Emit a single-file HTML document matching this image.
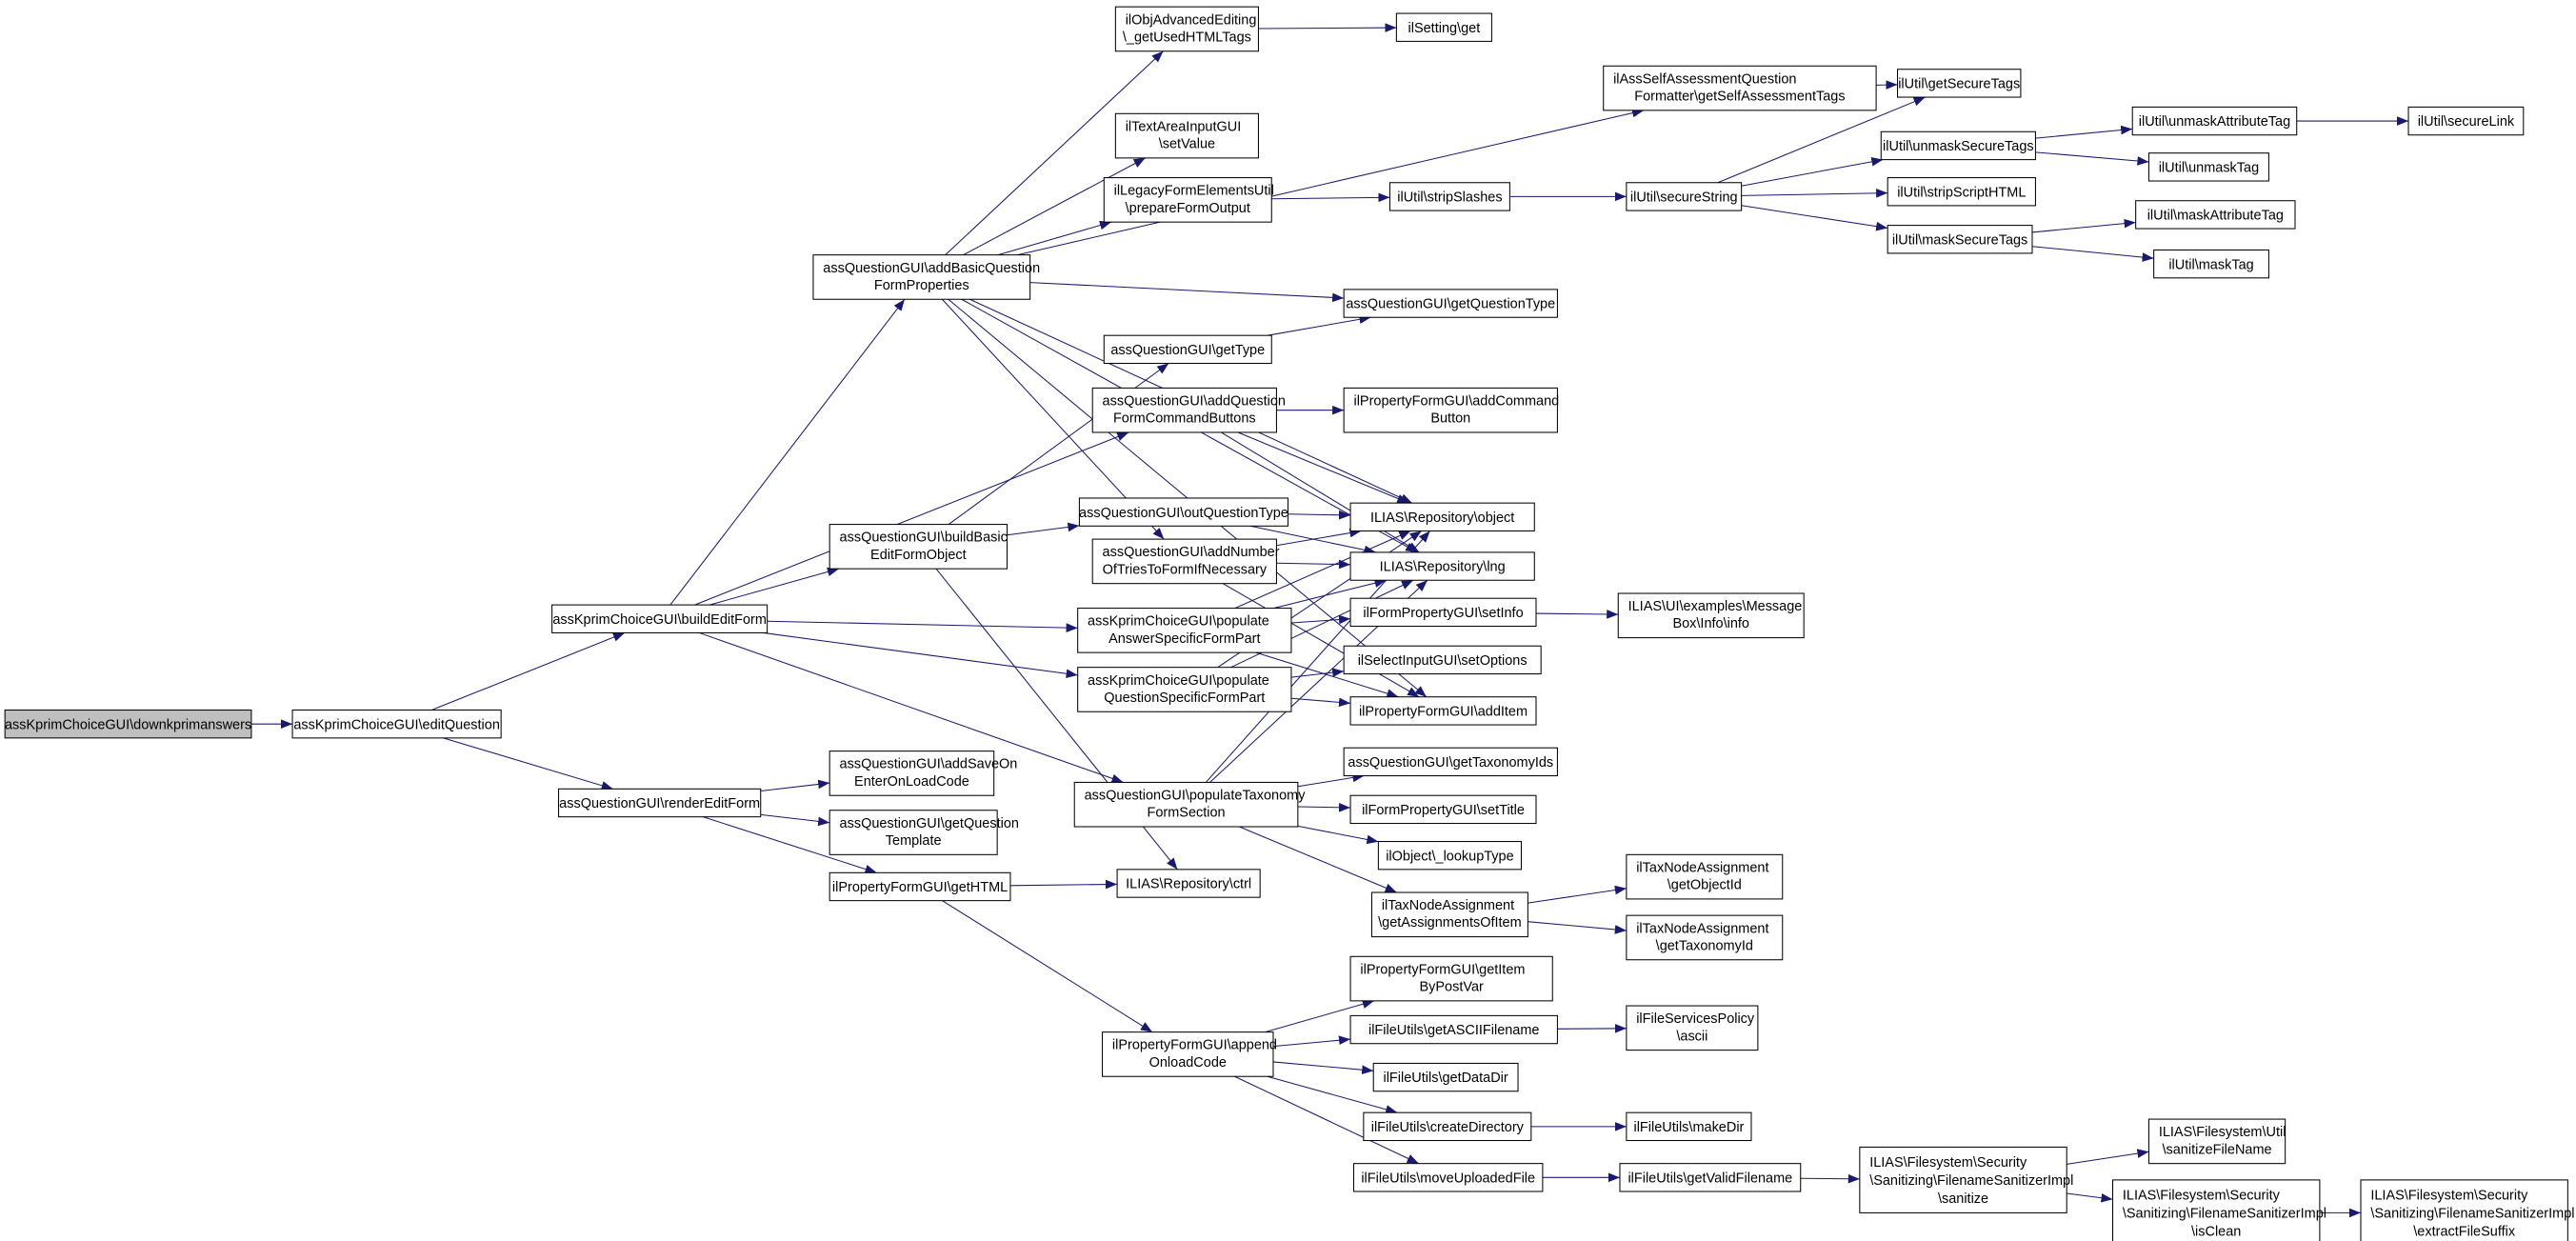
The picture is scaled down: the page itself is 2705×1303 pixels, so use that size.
<!DOCTYPE html>
<html><head><meta charset="utf-8">
<style>
html,body{margin:0;padding:0;background:#fff;}
svg{display:block;}
text{font-family:"Liberation Sans",sans-serif;font-size:8.4px;fill:#000;}
rect{fill:#fff;stroke:#000;stroke-width:0.6;}
rect.root{fill:#bfbfbf;}
</style></head>
<body>
<svg id="g" width="2705" height="1303" viewBox="0 0 1568 755" xmlns="http://www.w3.org/2000/svg">
<defs><marker id="ah" viewBox="0 0 10 10" refX="10" refY="5" markerWidth="7" markerHeight="7" markerUnits="userSpaceOnUse" orient="auto"><path d="M0,1 L10,5 L0,9 z" fill="#191970"/></marker></defs>
<g id="edges"></g>
<g id="nodes">
<g id="n1"><rect class="root" x="3" y="432" width="150" height="17"/><text x="78" y="443.5" text-anchor="middle">assKprimChoiceGUI\downkprimanswers</text></g>
<g id="n2"><rect x="178" y="432" width="127" height="17"/><text x="241.5" y="443.5" text-anchor="middle">assKprimChoiceGUI\editQuestion</text></g>
<g id="n3"><rect x="336" y="368" width="131" height="17"/><text x="401.5" y="379.5" text-anchor="middle">assKprimChoiceGUI\buildEditForm</text></g>
<g id="n4"><rect x="340" y="480" width="123" height="17"/><text x="401.5" y="491.5" text-anchor="middle">assQuestionGUI\renderEditForm</text></g>
<g id="n5"><rect x="495" y="155" width="132" height="27"/><text x="501" y="165.5">assQuestionGUI\addBasicQuestion</text><text x="561" y="176" text-anchor="middle">FormProperties</text></g>
<g id="n6"><rect x="505" y="319" width="108" height="27"/><text x="511" y="329.5">assQuestionGUI\buildBasic</text><text x="559" y="340" text-anchor="middle">EditFormObject</text></g>
<g id="n7"><rect x="505" y="457" width="100" height="27"/><text x="511" y="467.5">assQuestionGUI\addSaveOn</text><text x="555" y="478" text-anchor="middle">EnterOnLoadCode</text></g>
<g id="n8"><rect x="505" y="493" width="102" height="27"/><text x="511" y="503.5">assQuestionGUI\getQuestion</text><text x="556" y="514" text-anchor="middle">Template</text></g>
<g id="n9"><rect x="505" y="531" width="110" height="17"/><text x="560" y="542.5" text-anchor="middle">ilPropertyFormGUI\getHTML</text></g>
<g id="n10"><rect x="679" y="4" width="87" height="27"/><text x="685" y="14.5">ilObjAdvancedEditing</text><text x="722.5" y="25" text-anchor="middle">\_getUsedHTMLTags</text></g>
<g id="n11"><rect x="679" y="69" width="87" height="27"/><text x="685" y="79.5">ilTextAreaInputGUI</text><text x="722.5" y="90" text-anchor="middle">\setValue</text></g>
<g id="n12"><rect x="672" y="108" width="102" height="27"/><text x="678" y="118.5">ilLegacyFormElementsUtil</text><text x="723" y="129" text-anchor="middle">\prepareFormOutput</text></g>
<g id="n13"><rect x="672" y="204" width="102" height="17"/><text x="723" y="215.5" text-anchor="middle">assQuestionGUI\getType</text></g>
<g id="n14"><rect x="665" y="236" width="112" height="27"/><text x="671" y="246.5">assQuestionGUI\addQuestion</text><text x="721" y="257" text-anchor="middle">FormCommandButtons</text></g>
<g id="n15"><rect x="657" y="303" width="127" height="17"/><text x="720.5" y="314.5" text-anchor="middle">assQuestionGUI\outQuestionType</text></g>
<g id="n16"><rect x="665" y="328" width="112" height="27"/><text x="671" y="338.5">assQuestionGUI\addNumber</text><text x="721" y="349" text-anchor="middle">OfTriesToFormIfNecessary</text></g>
<g id="n17"><rect x="656" y="370" width="130" height="27"/><text x="662" y="380.5">assKprimChoiceGUI\populate</text><text x="721" y="391" text-anchor="middle">AnswerSpecificFormPart</text></g>
<g id="n18"><rect x="656" y="406" width="130" height="27"/><text x="662" y="416.5">assKprimChoiceGUI\populate</text><text x="721" y="427" text-anchor="middle">QuestionSpecificFormPart</text></g>
<g id="n19"><rect x="654" y="476" width="136" height="27"/><text x="660" y="486.5">assQuestionGUI\populateTaxonomy</text><text x="722" y="497" text-anchor="middle">FormSection</text></g>
<g id="n20"><rect x="680" y="529" width="87" height="17"/><text x="723.5" y="540.5" text-anchor="middle">ILIAS\Repository\ctrl</text></g>
<g id="n21"><rect x="671" y="628" width="104" height="27"/><text x="677" y="638.5">ilPropertyFormGUI\append</text><text x="723" y="649" text-anchor="middle">OnloadCode</text></g>
<g id="n22"><rect x="850" y="8" width="58" height="17"/><text x="879" y="19.5" text-anchor="middle">ilSetting\get</text></g>
<g id="n23"><rect x="976" y="40" width="166" height="27"/><text x="982" y="50.5">ilAssSelfAssessmentQuestion</text><text x="1059" y="61" text-anchor="middle">Formatter\getSelfAssessmentTags</text></g>
<g id="n24"><rect x="846" y="111" width="73" height="17"/><text x="882.5" y="122.5" text-anchor="middle">ilUtil\stripSlashes</text></g>
<g id="n25"><rect x="818" y="176" width="130" height="17"/><text x="883" y="187.5" text-anchor="middle">assQuestionGUI\getQuestionType</text></g>
<g id="n26"><rect x="818" y="236" width="130" height="27"/><text x="824" y="246.5">ilPropertyFormGUI\addCommand</text><text x="883" y="257" text-anchor="middle">Button</text></g>
<g id="n27"><rect x="822" y="306" width="112" height="17"/><text x="878" y="317.5" text-anchor="middle">ILIAS\Repository\object</text></g>
<g id="n28"><rect x="822" y="336" width="112" height="17"/><text x="878" y="347.5" text-anchor="middle">ILIAS\Repository\lng</text></g>
<g id="n29"><rect x="822" y="364" width="113" height="17"/><text x="878.5" y="375.5" text-anchor="middle">ilFormPropertyGUI\setInfo</text></g>
<g id="n30"><rect x="818" y="393" width="120" height="17"/><text x="878" y="404.5" text-anchor="middle">ilSelectInputGUI\setOptions</text></g>
<g id="n31"><rect x="822" y="424" width="113" height="17"/><text x="878.5" y="435.5" text-anchor="middle">ilPropertyFormGUI\addItem</text></g>
<g id="n32"><rect x="818" y="455" width="130" height="17"/><text x="883" y="466.5" text-anchor="middle">assQuestionGUI\getTaxonomyIds</text></g>
<g id="n33"><rect x="822" y="484" width="113" height="17"/><text x="878.5" y="495.5" text-anchor="middle">ilFormPropertyGUI\setTitle</text></g>
<g id="n34"><rect x="839" y="512" width="87" height="17"/><text x="882.5" y="523.5" text-anchor="middle">ilObject\_lookupType</text></g>
<g id="n35"><rect x="835" y="543" width="95" height="27"/><text x="841" y="553.5">ilTaxNodeAssignment</text><text x="882.5" y="564" text-anchor="middle">\getAssignmentsOfItem</text></g>
<g id="n36"><rect x="822" y="582" width="123" height="27"/><text x="828" y="592.5">ilPropertyFormGUI\getItem</text><text x="883.5" y="603" text-anchor="middle">ByPostVar</text></g>
<g id="n37"><rect x="822" y="618" width="126" height="17"/><text x="885" y="629.5" text-anchor="middle">ilFileUtils\getASCIIFilename</text></g>
<g id="n38"><rect x="836" y="647" width="88" height="17"/><text x="880" y="658.5" text-anchor="middle">ilFileUtils\getDataDir</text></g>
<g id="n39"><rect x="830" y="677" width="102" height="17"/><text x="881" y="688.5" text-anchor="middle">ilFileUtils\createDirectory</text></g>
<g id="n40"><rect x="824" y="708" width="115" height="17"/><text x="881.5" y="719.5" text-anchor="middle">ilFileUtils\moveUploadedFile</text></g>
<g id="n41"><rect x="990" y="111" width="70" height="17"/><text x="1025" y="122.5" text-anchor="middle">ilUtil\secureString</text></g>
<g id="n42"><rect x="985" y="361" width="113" height="27"/><text x="991" y="371.5">ILIAS\UI\examples\Message</text><text x="1041.5" y="382" text-anchor="middle">Box\Info\info</text></g>
<g id="n43"><rect x="990" y="520" width="95" height="27"/><text x="996" y="530.5">ilTaxNodeAssignment</text><text x="1037.5" y="541" text-anchor="middle">\getObjectId</text></g>
<g id="n44"><rect x="990" y="557" width="95" height="27"/><text x="996" y="567.5">ilTaxNodeAssignment</text><text x="1037.5" y="578" text-anchor="middle">\getTaxonomyId</text></g>
<g id="n45"><rect x="990" y="612" width="80" height="27"/><text x="996" y="622.5">ilFileServicesPolicy</text><text x="1030" y="633" text-anchor="middle">\ascii</text></g>
<g id="n46"><rect x="990" y="677" width="76" height="17"/><text x="1028" y="688.5" text-anchor="middle">ilFileUtils\makeDir</text></g>
<g id="n47"><rect x="986" y="708" width="110" height="17"/><text x="1041" y="719.5" text-anchor="middle">ilFileUtils\getValidFilename</text></g>
<g id="n48"><rect x="1155" y="42" width="75" height="17"/><text x="1192.5" y="53.5" text-anchor="middle">ilUtil\getSecureTags</text></g>
<g id="n49"><rect x="1145" y="80" width="94" height="17"/><text x="1192" y="91.5" text-anchor="middle">ilUtil\unmaskSecureTags</text></g>
<g id="n50"><rect x="1149" y="108" width="90" height="17"/><text x="1194" y="119.5" text-anchor="middle">ilUtil\stripScriptHTML</text></g>
<g id="n51"><rect x="1149" y="137" width="88" height="17"/><text x="1193" y="148.5" text-anchor="middle">ilUtil\maskSecureTags</text></g>
<g id="n52"><rect x="1132" y="698" width="126" height="40"/><text x="1138" y="710">ILIAS\Filesystem\Security</text><text x="1138" y="721">\Sanitizing\FilenameSanitizerImpl</text><text x="1195" y="732" text-anchor="middle">\sanitize</text></g>
<g id="n53"><rect x="1298" y="65" width="100" height="17"/><text x="1348" y="76.5" text-anchor="middle">ilUtil\unmaskAttributeTag</text></g>
<g id="n54"><rect x="1308" y="93" width="73" height="17"/><text x="1344.5" y="104.5" text-anchor="middle">ilUtil\unmaskTag</text></g>
<g id="n55"><rect x="1300" y="122" width="97" height="17"/><text x="1348.5" y="133.5" text-anchor="middle">ilUtil\maskAttributeTag</text></g>
<g id="n56"><rect x="1311" y="152" width="70" height="17"/><text x="1346" y="163.5" text-anchor="middle">ilUtil\maskTag</text></g>
<g id="n57"><rect x="1308" y="681" width="83" height="27"/><text x="1314" y="691.5">ILIAS\Filesystem\Util</text><text x="1349.5" y="702" text-anchor="middle">\sanitizeFileName</text></g>
<g id="n58"><rect x="1286" y="718" width="126" height="40"/><text x="1292" y="730">ILIAS\Filesystem\Security</text><text x="1292" y="741">\Sanitizing\FilenameSanitizerImpl</text><text x="1349" y="752" text-anchor="middle">\isClean</text></g>
<g id="n59"><rect x="1466" y="65" width="70" height="17"/><text x="1501" y="76.5" text-anchor="middle">ilUtil\secureLink</text></g>
<g id="n60"><rect x="1437" y="718" width="126" height="40"/><text x="1443" y="730">ILIAS\Filesystem\Security</text><text x="1443" y="741">\Sanitizing\FilenameSanitizerImpl</text><text x="1500" y="752" text-anchor="middle">\extractFileSuffix</text></g>
</g>
</svg>
<script>
(function(){
var E=[[1,2],[2,3],[2,4],[3,5],[3,6],[3,14],[3,17],[3,18],[3,19],[4,7],[4,8],[4,9],
[5,10],[5,23],[5,11],[5,12],[5,25],[5,27],[5,28],[5,31],[5,16],
[6,13],[6,15],[6,20],[9,20],[9,21],[10,22],[12,24],[13,25],[14,26],[14,27],[14,28],
[15,27],[15,28],[16,27],[16,28],[16,31],[17,29],[17,27],[17,28],[17,31],
[18,30],[18,31],[18,27],[18,28],[19,32],[19,33],[19,34],[19,35],[19,27],[19,28],
[21,36],[21,37],[21,38],[21,39],[21,40],[23,48],[24,41],[41,48],[41,49],[41,50],[41,51],
[49,53],[49,54],[51,55],[51,56],[53,59],[29,42],[35,43],[35,44],[37,45],[39,46],[40,47],
[47,52],[52,57],[52,58],[58,60]];
var ns="http://www.w3.org/2000/svg",eg=document.getElementById("edges");
function box(i){var r=document.querySelector("#n"+i+" rect");return{x:+r.getAttribute("x"),y:+r.getAttribute("y"),w:+r.getAttribute("width"),h:+r.getAttribute("height")};}
function clip(b,dx,dy){var cx=b.x+b.w/2,cy=b.y+b.h/2;var tx=dx?(b.w/2)/Math.abs(dx):1e9,ty=dy?(b.h/2)/Math.abs(dy):1e9;var t=Math.min(tx,ty);return[cx+dx*t,cy+dy*t];}
E.forEach(function(e){var a=box(e[0]),b=box(e[1]);
var ax=a.x+a.w/2,ay=a.y+a.h/2,bx=b.x+b.w/2,by=b.y+b.h/2;
var dx=bx-ax,dy=by-ay;var p=clip(a,dx,dy),q=clip(b,-dx,-dy);
var l=document.createElementNS(ns,"line");
l.setAttribute("x1",p[0]);l.setAttribute("y1",p[1]);l.setAttribute("x2",q[0]);l.setAttribute("y2",q[1]);
l.setAttribute("stroke","#191970");l.setAttribute("stroke-width","0.6");l.setAttribute("marker-end","url(#ah)");
eg.appendChild(l);});
})();
</script>
</body></html>
